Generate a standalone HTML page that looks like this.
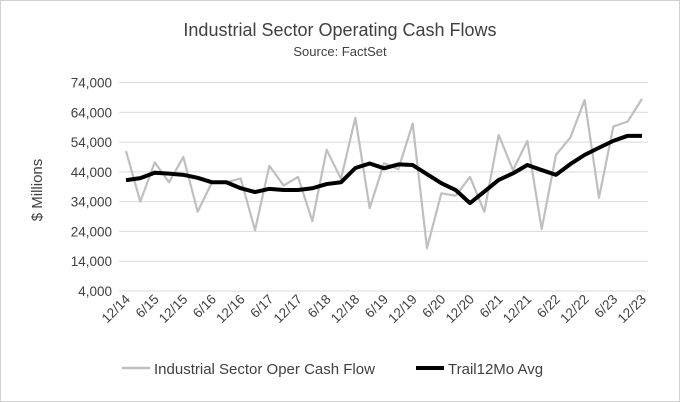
<!DOCTYPE html>
<html><head><meta charset="utf-8"><style>
body{margin:0;background:#fff;}
svg{display:block;font-family:"Liberation Sans",sans-serif;}
</style></head><body>
<svg id="chart" width="680" height="402">
<rect x="0.5" y="0.5" width="679" height="401" fill="#fff" stroke="#d0d0d0"/>
<text x="340" y="36" text-anchor="middle" font-size="18" fill="#404040">Industrial Sector Operating Cash Flows</text>
<text x="340" y="56" text-anchor="middle" font-size="13" fill="#404040">Source: FactSet</text>
<text transform="translate(42,190) rotate(-90)" text-anchor="middle" font-size="15" fill="#404040">$ Millions</text>
<g id="grid"></g><g id="yt"></g><g id="xt"></g><g id="series"></g>
<g>
<line x1="122" y1="368" x2="150" y2="368" stroke="#bfbfbf" stroke-width="2.5"/>
<text x="154" y="374" font-size="15" fill="#404040">Industrial Sector Oper Cash Flow</text>
<line x1="416" y1="368" x2="444" y2="368" stroke="#000" stroke-width="4"/>
<text x="448" y="374" font-size="15" fill="#404040">Trail12Mo Avg</text>
</g>
</svg>
<script>
const categories=["12/14","3/15","6/15","9/15","12/15","3/16","6/16","9/16","12/16","3/17","6/17","9/17","12/17","3/18","6/18","9/18","12/18","3/19","6/19","9/19","12/19","3/20","6/20","9/20","12/20","3/21","6/21","9/21","12/21","3/22","6/22","9/22","12/22","3/23","6/23","9/23","12/23"];
const cashFlow=[51,34,47.2,40.5,49,30.6,40.5,40.5,41.8,24.4,46,39.4,42.3,27.5,51.4,41.6,62.2,31.8,46.9,44.9,60.2,18.4,36.8,36,42.3,30.6,56.4,44.6,54.4,24.8,49.7,55.5,68.1,35.3,59.2,60.9,68.5];
const trailAvg=[41.2,41.9,43.7,43.4,43,42,40.5,40.5,38.5,37.2,38.3,37.9,37.9,38.5,39.9,40.5,45.3,46.8,45.2,46.5,46.3,43.2,40.2,37.9,33.5,37.4,41.3,43.5,46.3,44.6,43,46.6,49.7,52.1,54.4,56.1,56.1];
const yTicks=[4,14,24,34,44,54,64,74];
const yTickLabels=["4,000","14,000","24,000","34,000","44,000","54,000","64,000","74,000"];
const NS="http://www.w3.org/2000/svg";
const X0=126,X1=642,YT=82.5,YB=291;
function xs(i){return X0+(X1-X0)*i/(categories.length-1);}
function ys(v){return YB-(v-4)/70*(YB-YT);}
function mk(t,a,p){const e=document.createElementNS(NS,t);for(const k in a)e.setAttribute(k,a[k]);p.appendChild(e);return e;}
const grid=document.getElementById('grid'),yt=document.getElementById('yt'),xt=document.getElementById('xt'),ser=document.getElementById('series');
yTicks.forEach((v,i)=>{
 const l=mk('line',{x1:119,x2:648,y1:ys(v),y2:ys(v),stroke:'#d9d9d9','stroke-width':1},grid);
 
 
 const t=mk('text',{x:112,y:ys(v)+5,'text-anchor':'end','font-size':13.5,fill:'#404040'},yt);
 t.textContent=yTickLabels[i];
 
 
});
categories.forEach((c,i)=>{
 if(i%2)return;
 const x=xs(i)+5,y=300;
 const t=mk('text',{x:x,y:y,'text-anchor':'end','font-size':13.5,fill:'#404040',transform:`rotate(-45 ${x} ${y})`},xt);
 t.textContent=c;
 
 
});
function line(data,stroke,w,name){
 const p=mk('polyline',{points:data.map((v,i)=>xs(i)+','+ys(v)).join(' '),fill:'none',stroke:stroke,'stroke-width':w,'stroke-linejoin':'round'},ser);
 
 
}
line(cashFlow,'#bfbfbf',2.2,'oper-cash-flow-line');
line(trailAvg,'#000',4,'trail12mo-avg-line');
</script>
</body></html>
